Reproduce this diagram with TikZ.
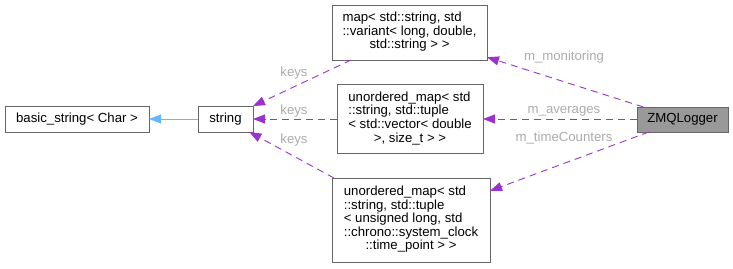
\documentclass[tikz,border=0pt]{standalone}
\usepackage{fontspec}
\setmainfont{Liberation Sans}
\usetikzlibrary{arrows.meta}
\definecolor{edgepurple}{HTML}{9A32CD}
\definecolor{edgeblue}{HTML}{63B8FF}
\definecolor{lblgray}{HTML}{ABABAB}
\definecolor{boxgray}{HTML}{666666}
\definecolor{fillgray}{HTML}{999999}
\newcommand{\dlines}[1]{\begin{tabular}{@{}l@{}}#1\end{tabular}}
\newcommand{\lastline}[1]{\multicolumn{1}{@{}c@{}}{#1}}
\begin{document}
\begin{tikzpicture}[x=1pt,y=1pt,
  cls/.style={draw=boxgray, line width=0.9pt, fill=white, inner sep=0pt, outer sep=0pt,
    font=\fontsize{13.2}{13.5}\selectfont, align=center},
  usedby/.style={draw=edgepurple, line width=0.9pt, dash pattern=on 7pt off 5pt,
    -{Triangle[length=12pt,width=9pt]}},
  inherit/.style={draw=edgeblue, line width=0.9pt, -{Triangle[length=12pt,width=9pt]}},
  lbl/.style={text=lblgray, font=\fontsize{13.2}{13.5}\selectfont, inner sep=0pt}]
\useasboundingbox (0,0) rectangle (733,-268);
\node[cls, minimum width=144pt, minimum height=26pt] (basic) at (77,-119) {basic\_string< Char >};
\node[cls, minimum width=55pt, minimum height=26pt] (string) at (225.5,-119) {string};
\node[cls, minimum width=155pt, minimum height=55pt] (map) at (409.5,-32.5)
  {\dlines{map< std::string, std\\::variant< long, double,\\\lastline{std::string > >}}};
\node[cls, minimum width=146pt, minimum height=69pt] (um1) at (410,-119)
  {\dlines{unordered\_map< std\\::string, std::tuple\\< std::vector< double\\\lastline{>, size\_t > >}}};
\node[cls, minimum width=158pt, minimum height=84pt] (um2) at (411,-220)
  {\dlines{unordered\_map< std\\::string, std::tuple\\< unsigned long, std\\::chrono::system\_clock\\\lastline{::time\_point > >}}};
\node[cls, fill=fillgray, minimum width=91pt, minimum height=25pt] (zmq) at (682.5,-119.5) {ZMQLogger};

\draw[inherit] (string) -- (basic);
\draw[usedby] (map) -- (string);
\draw[usedby] (um1) -- (string);
\draw[usedby] (um2) -- (string);
\draw[usedby] (zmq) -- (map);
\draw[usedby] (zmq.west |- um1.east) -- (um1.east);
\draw[usedby] (zmq) -- (um2);

\node[lbl] (k1) at (294,-73) {keys};
\node[lbl] (k2) at (294,-111) {keys};
\node[lbl] (k3) at (294,-140) {keys};
\node[lbl] (lmon) at (564,-57) {m\_monitoring};
\node[lbl] (lavg) at (564,-111) {m\_averages};
\node[lbl] (ltc) at (564,-138) {m\_timeCounters};
\end{tikzpicture}
\end{document}
